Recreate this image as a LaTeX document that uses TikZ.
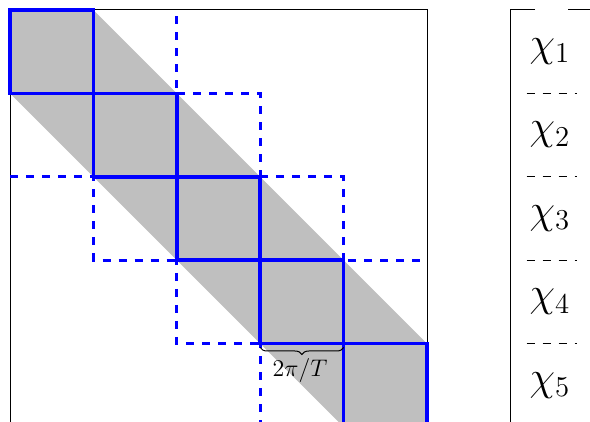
\documentclass[tikz,border=0pt]{standalone}
\usetikzlibrary{decorations.pathreplacing}
\begin{document}
\begin{tikzpicture}[x=0.5pt,y=-0.5pt,
  band/.style={fill=lightgray,draw=none},
  frame/.style={draw=black,line width=0.5pt},
  blocksq/.style={draw=blue,line width=1.8pt},
  dashsq/.style={draw=blue,line width=1.5pt,dash pattern=on 4pt off 4pt},
  sep/.style={draw=black,line width=0.5pt,dash pattern=on 4pt off 4pt},
  chilab/.style={inner sep=0pt,font=\fontsize{20.7}{24}\selectfont},
  bracelab/.style={inner sep=0pt,font=\fontsize{12.5}{15}\selectfont}]
\useasboundingbox (0,0) rectangle (590,422);
\begin{scope}
\clip (0,0) rectangle (590,422);
% block corners
\foreach \k in {0,...,5}{
  \foreach \l in {0,...,5}{
    \coordinate (p\k\l) at ({10+83.4*\k},{10+83.4*\l});
  }
}
% grey band
\fill[band] (p00) -- (p10) -- (p54) -- (p55) -- (p45) -- (p01) -- cycle;
% frame
\draw[frame] (p00) rectangle (p55);
% dashed squares
\draw[dashsq] (p02) -- (p22) -- (p20);
\draw[dashsq] (p11) -- (p13) -- (p33) -- (p31) -- cycle;
\draw[dashsq] (p22) -- (p24) -- (p44) -- (p42) -- cycle;
\draw[dashsq] (p33) -- (p35);
\draw[dashsq,dash phase=5.6pt] (p43) -- (p53);
% solid diagonal blocks
\foreach \i [evaluate=\i as \j using int(\i+1)] in {0,...,4}{
  \draw[blocksq] (p\i\i) rectangle (p\j\j);
}
% brace
\coordinate (bl) at (260.2,347.5);
\coordinate (br) at (343.6,347.5);
\draw[decorate,decoration={brace,mirror,amplitude=3.5pt},line width=0.5pt] (bl) -- (br);
\node[bracelab] (bt) at (300,371) {$2\pi/T$};
% right box
\coordinate (t1) at (535,10);
\coordinate (t0) at (510,10);
\coordinate (b0) at (510,440);
\coordinate (t2) at (568,10);
\coordinate (t3) at (600,10);
\draw[frame] (t1) -- (t0) -- (b0);
\draw[frame] (t2) -- (t3);
\foreach \k in {1,...,5}{
  \node[chilab] (c\k) at (550,{51.7+83.4*(\k-1)}) {$\chi_{\k}$};
}
\foreach \k in {1,...,4}{
  \coordinate (sl\k) at (526.7,{10+83.4*\k});
  \coordinate (sr\k) at (577,{10+83.4*\k});
  \draw[sep] (sl\k) -- (sr\k);
}
\end{scope}
\end{tikzpicture}
\end{document}
